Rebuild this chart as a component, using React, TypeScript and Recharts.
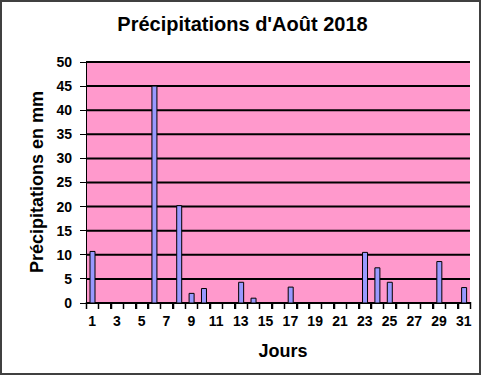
import React from "react";
import { Bar, BarChart, CartesianGrid, XAxis, YAxis } from "recharts";

const days = Array.from({ length: 31 }, (_, i) => i + 1);
const rainMm = [
  10.7, 0, 0, 0, 0, 45, 0, 20.2, 2, 3,
  0, 0, 4.3, 1, 0, 0, 3.3, 0, 0, 0,
  0, 0, 10.5, 7.3, 4.3, 0, 0, 0, 8.6, 0,
  3.2,
];
const yTicks = [0, 5, 10, 15, 20, 25, 30, 35, 40, 45, 50];
const dayEdges = [0.5, ...days.map((d) => d + 0.5)];

const font = "'Liberation Sans', Arial, sans-serif";
const CHART_W = 481;
const Y_AXIS_W = 86;
const RIGHT = 11;
const BAND = (CHART_W - Y_AXIS_W - RIGHT) / days.length;

// tick marks sit between days; label the odd day to the right of each edge
const EdgeLabel = ({ x, y, payload }: any) => {
  const day = payload.value + 0.5;
  const labelled = day <= days.length && day % 2 === 1;
  return (
    <g>
      <line x1={Math.round(x) + 0.5} x2={Math.round(x) + 0.5} y1={y - 7} y2={y} stroke="#000" strokeWidth={1.5} />
      {labelled && (
        <text x={x + BAND / 2} y={y + 17} textAnchor="middle" fill="#000" fontSize={14} fontWeight="bold" fontFamily={font}>
          {day}
        </text>
      )}
    </g>
  );
};

export default function App() {
  const data = days.map((d, i) => ({ day: d, mm: rainMm[i] }));

  return (
    <div style={{ position: "relative", width: 481, height: 375, boxSizing: "border-box", border: "2px solid #404040", background: "#fff", fontFamily: font }}>
      <style>{"body{margin:0}"}</style>
      <div style={{ position: "absolute", left: -2, top: 11, width: 485, textAlign: "center", fontSize: 20, fontWeight: "bold", color: "#000" }}>
        Précipitations d'Août 2018
      </div>
      <div style={{ position: "absolute", left: 37 - 100 - 2, top: 182 - 11 - 2, width: 200, height: 22, lineHeight: "22px", textAlign: "center", transform: "rotate(-90deg)", fontSize: 18, fontWeight: "bold" }}>
        Précipitations en mm
      </div>
      <div style={{ position: "absolute", left: 183 - 2, top: 341 - 2, width: 200, textAlign: "center", fontSize: 18, fontWeight: "bold" }}>
        Jours
      </div>
      <div style={{ position: "absolute", left: -2, top: -2 }}>
        <BarChart width={CHART_W} height={375} data={data} margin={{ top: 62, right: RIGHT, bottom: 42, left: 0 }}>
          <CartesianGrid vertical={false} stroke="#000" strokeWidth={2} fill="#FF99CC" fillOpacity={1} />
          <XAxis
            dataKey="day"
            type="number"
            domain={[0.5, days.length + 0.5]}
            ticks={dayEdges}
            interval={0}
            height={30}
            tickSize={6}
            tickMargin={0}
            axisLine={{ stroke: "#000", shapeRendering: "crispEdges" }}
            tickLine={{ stroke: "#000", strokeWidth: 1, shapeRendering: "crispEdges" }}
            tick={<EdgeLabel />}
          />
          <YAxis
            domain={[0, 50]}
            ticks={yTicks}
            width={Y_AXIS_W}
            tickSize={6}
            tickMargin={8}
            axisLine={{ stroke: "#000", shapeRendering: "crispEdges" }}
            tickLine={{ stroke: "#000", shapeRendering: "crispEdges" }}
            tick={{ fill: "#000", fontSize: 14, fontWeight: "bold", fontFamily: font }}
          />
          <Bar dataKey="mm" barSize={5} fill="#9999FF" stroke="#000" strokeWidth={1} isAnimationActive={false} />
        </BarChart>
      </div>
    </div>
  );
}
